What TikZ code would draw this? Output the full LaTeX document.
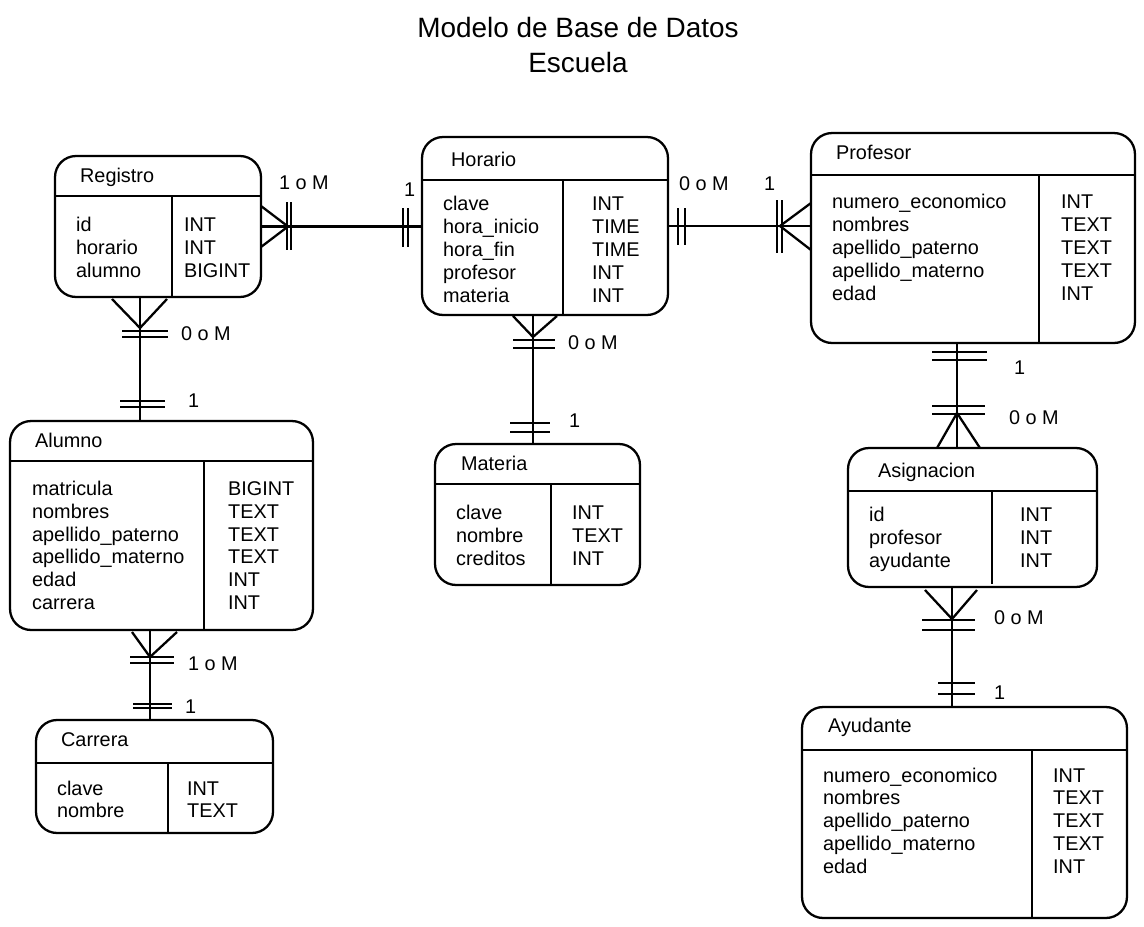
\documentclass[tikz,border=0pt]{standalone}
\usepackage{fontspec}
\setmainfont{Liberation Sans}

\begin{document}
\begin{tikzpicture}[
    x=0.02cm, y=-0.02cm, line width=1.3pt,
    tabla/.style={draw, rounded corners=0.42cm, inner sep=0pt},
    campo/.style={anchor=base west, inner sep=0pt, font=\fontsize{11.3}{13}\selectfont},
    card/.style={anchor=base west, inner sep=0pt, font=\fontsize{11.3}{13}\selectfont},
    titulo/.style={anchor=base, inner sep=0pt, font=\fontsize{15.9}{19}\selectfont},
]
\useasboundingbox (0,0) rectangle (1144,927);

% Title
\node[titulo] (tit1) at (578,37) {Modelo de Base de Datos};
\node[titulo] (tit2) at (578,72) {Escuela};

% Registro
\node[tabla, minimum width=4.12cm, minimum height=2.82cm] (reg) at (158,226.5) {};
\draw (55,196) -- (261,196);
\draw (172,196) -- (172,297);
\node[campo] (reg-n) at (79,182) {Registro};
\foreach \c/\t [count=\i from 0] in {id/INT, horario/INT, alumno/BIGINT} {
    \node[campo] (reg-c\i) at (75,231+23*\i) {\c};
    \node[campo] (reg-t\i) at (183,231+23*\i) {\t};
}

% Horario
\node[tabla, minimum width=4.92cm, minimum height=3.56cm] (hor) at (545,226) {};
\draw (422,180) -- (668,180);
\draw (563,180) -- (563,315);
\node[campo] (hor-n) at (450,166) {Horario};
\foreach \c/\t [count=\i from 0] in {clave/INT, hora\_inicio/TIME, hora\_fin/TIME, profesor/INT, materia/INT} {
    \node[campo] (hor-c\i) at (442,210+23*\i) {\c};
    \node[campo] (hor-t\i) at (591,210+23*\i) {\t};
}

% Profesor
\node[tabla, minimum width=6.48cm, minimum height=4.2cm] (prof) at (973,238) {};
\draw (811,175) -- (1135,175);
\draw (1039,175) -- (1039,343);
\node[campo] (prof-n) at (835,159) {Profesor};
\foreach \c/\t [count=\i from 0] in {numero\_economico/INT, nombres/TEXT, apellido\_paterno/TEXT, apellido\_materno/TEXT, edad/INT} {
    \node[campo] (prof-c\i) at (831,208+23*\i) {\c};
    \node[campo] (prof-t\i) at (1060,208+23*\i) {\t};
}

% Alumno
\node[tabla, minimum width=6.06cm, minimum height=4.18cm] (alu) at (161.5,525.5) {};
\draw (10,461) -- (313,461);
\draw (204,461) -- (204,630);
\node[campo] (alu-n) at (34,447) {Alumno};
\foreach \c/\t [count=\i from 0] in {matricula/BIGINT, nombres/TEXT, apellido\_paterno/TEXT, apellido\_materno/TEXT, edad/INT, carrera/INT} {
    \node[campo] (alu-c\i) at (31,495.5+22.8*\i) {\c};
    \node[campo] (alu-t\i) at (227,495.5+22.8*\i) {\t};
}

% Materia
\node[tabla, minimum width=4.1cm, minimum height=2.82cm] (mat) at (537.5,514.5) {};
\draw (435,484) -- (640,484);
\draw (551,484) -- (551,585);
\node[campo] (mat-n) at (460,470) {Materia};
\foreach \c/\t [count=\i from 0] in {clave/INT, nombre/TEXT, creditos/INT} {
    \node[campo] (mat-c\i) at (455,519+23*\i) {\c};
    \node[campo] (mat-t\i) at (571,519+23*\i) {\t};
}

% Asignacion
\node[tabla, minimum width=4.98cm, minimum height=2.78cm] (asig) at (972.5,517.5) {};
\draw (848,491) -- (1097,491);
\draw (992,491) -- (992,584);
\node[campo] (asig-n) at (877,477) {Asignacion};
\foreach \c/\t [count=\i from 0] in {id/INT, profesor/INT, ayudante/INT} {
    \node[campo] (asig-c\i) at (868,521.5+23*\i) {\c};
    \node[campo] (asig-t\i) at (1019,521.5+23*\i) {\t};
}

% Carrera
\node[tabla, minimum width=4.74cm, minimum height=2.26cm] (car) at (154.5,776.5) {};
\draw (36,763) -- (273,763);
\draw (168,763) -- (168,833);
\node[campo] (car-n) at (60,746) {Carrera};
\foreach \c/\t [count=\i from 0] in {clave/INT, nombre/TEXT} {
    \node[campo] (car-c\i) at (56,795+22.5*\i) {\c};
    \node[campo] (car-t\i) at (186,795+22.5*\i) {\t};
}

% Ayudante
\node[tabla, minimum width=6.5cm, minimum height=4.22cm] (ayu) at (964.5,812.5) {};
\draw (802,750) -- (1127,750);
\draw (1032,750) -- (1032,918);
\node[campo] (ayu-n) at (827,732) {Ayudante};
\foreach \c/\t [count=\i from 0] in {numero\_economico/INT, nombres/TEXT, apellido\_paterno/TEXT, apellido\_materno/TEXT, edad/INT} {
    \node[campo] (ayu-c\i) at (822,782+22.8*\i) {\c};
    \node[campo] (ayu-t\i) at (1052,782+22.8*\i) {\t};
}

% Registro - Horario
\draw (reg.east) -- (reg.east -| hor.west);
\draw (261,206) -- (288,226.5) -- (261,247);
\draw (287,202) -- (287,250) (291,202) -- (291,250);
\draw (403,208) -- (403,247) (408,208) -- (408,247);
\node[card] (c1) at (278,189) {1 o M};
\node[card] (c2) at (403,196) {1};

% Horario - Profesor
\draw (hor.east) -- (hor.east -| prof.west);
\draw (678,208) -- (678,245) (685,208) -- (685,245);
\draw (811,203) -- (780,226) -- (811,250);
\draw (777,200) -- (777,253) (782,200) -- (782,253);
\node[card] (c3) at (678,190) {0 o M};
\node[card] (c4) at (763,190) {1};

% Registro - Alumno
\coordinate (regS) at (140,297);
\draw (regS) -- (regS |- alu.north);
\draw (112,299) -- (140,328) -- (167,299);
\draw (122,331) -- (168,331) (122,337) -- (168,337);
\draw (120,401) -- (165,401) (120,407) -- (165,407);
\node[card] (c5) at (180,340) {0 o M};
\node[card] (c6) at (187,407) {1};

% Horario - Materia
\coordinate (horS) at (533,315);
\draw (horS) -- (horS |- mat.north);
\draw (513,316) -- (533,337) -- (557,316);
\draw (513,340) -- (555,340) (513,348) -- (555,348);
\draw (510,423) -- (550,423) (510,432) -- (550,432);
\node[card] (c7) at (567,349) {0 o M};
\node[card] (c8) at (568,427) {1};

% Profesor - Asignacion
\coordinate (profS) at (957,343);
\draw (profS) -- (profS |- asig.north);
\draw (932,352) -- (987,352) (932,360) -- (987,360);
\draw (932,406) -- (985,406) (932,414) -- (985,414);
\draw (937,448) -- (957,413) -- (980,448);
\node[card] (c9) at (1013,374) {1};
\node[card] (c10) at (1008,424) {0 o M};

% Asignacion - Ayudante
\coordinate (asigS) at (952,587);
\draw (asigS) -- (asigS |- ayu.north);
\draw (925,590) -- (952,619) -- (977,590);
\draw (922,620) -- (975,620) (922,630) -- (975,630);
\draw (938,683) -- (975,683) (938,694) -- (975,694);
\node[card] (c11) at (993,624) {0 o M};
\node[card] (c12) at (993,699) {1};

% Alumno - Carrera
\coordinate (aluS) at (150,630);
\draw (aluS) -- (aluS |- car.north);
\draw (132,632) -- (150,657) -- (177,632);
\draw (130,657) -- (174,657) (130,663) -- (174,663);
\draw (133,704) -- (172,704) (133,708) -- (172,708);
\node[card] (c13) at (187,670) {1 o M};
\node[card] (c14) at (184,713) {1};

\end{tikzpicture}
\end{document}
